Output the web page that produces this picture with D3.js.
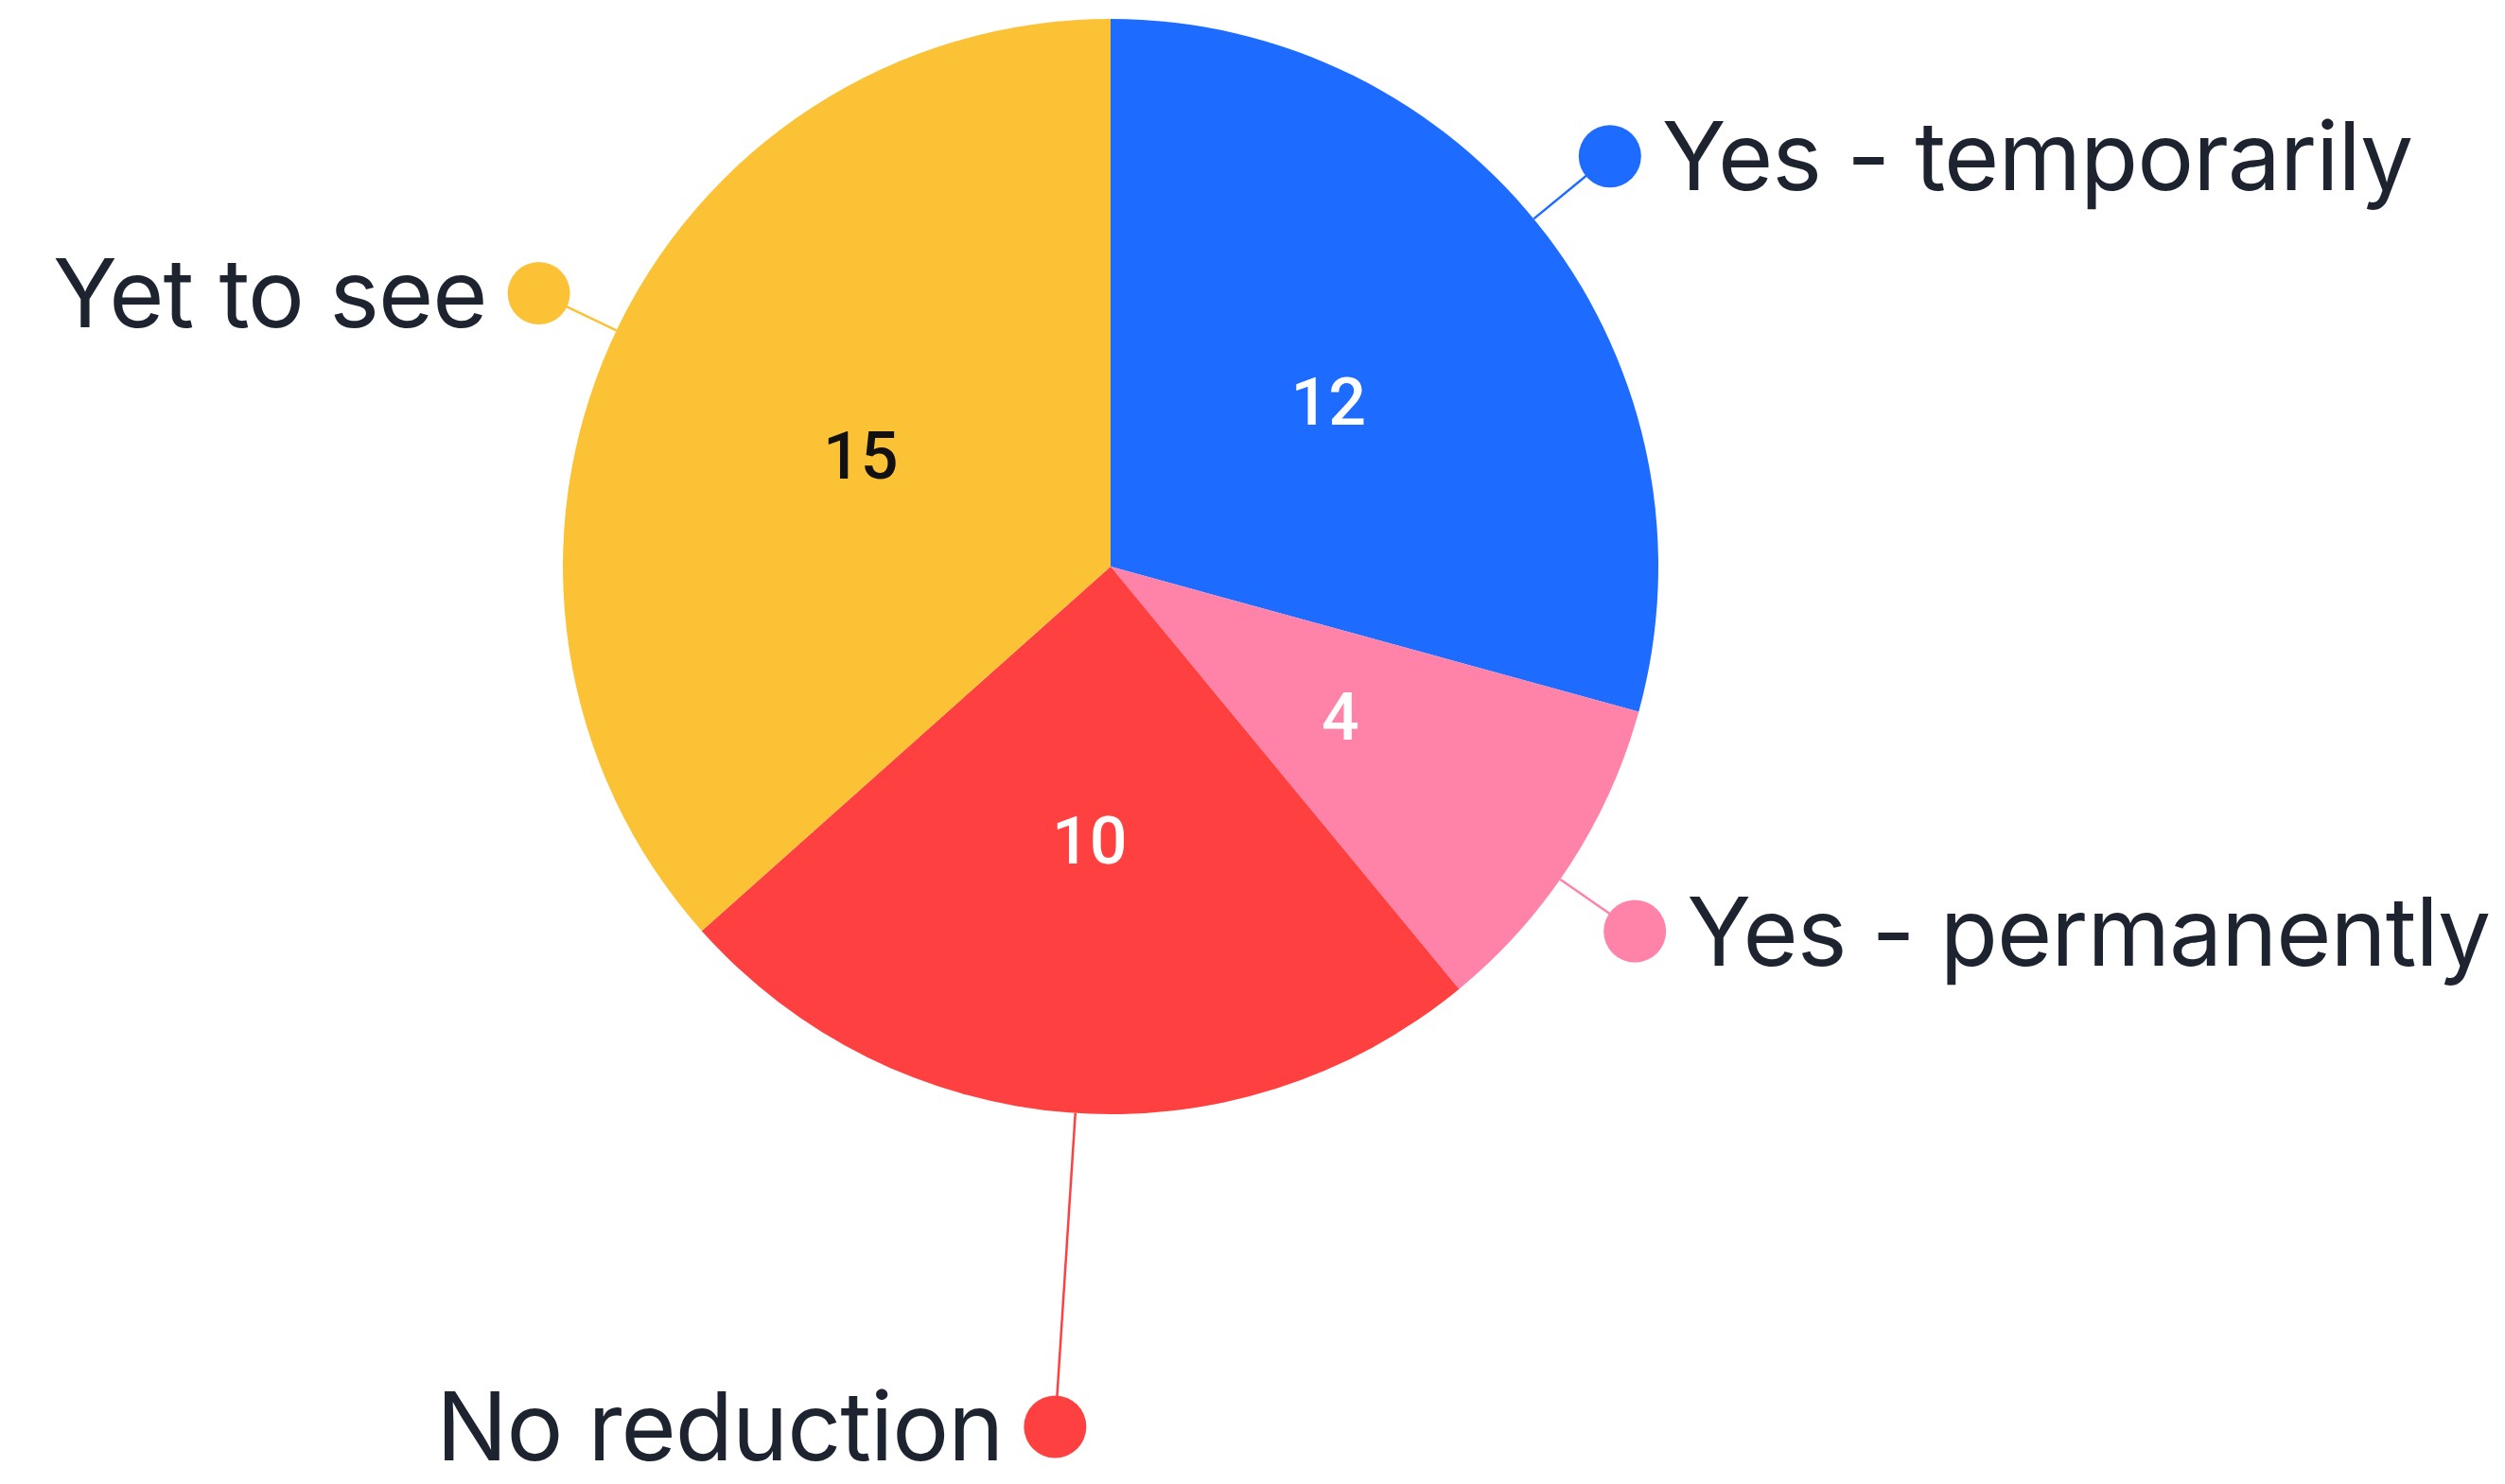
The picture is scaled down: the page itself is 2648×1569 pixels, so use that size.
<!DOCTYPE html>
<html>
<head>
<meta charset="utf-8">
<script src="https://cdn.jsdelivr.net/npm/d3@7"></script>
<style>
  html, body { margin: 0; padding: 0; background: #ffffff; }
  svg { display: block; }
</style>
</head>
<body>
<svg id="chart" width="2648" height="1569"></svg>
<script>
// ---- data ----
const categories = ["Yes - temporarily", "Yes - permanently", "No reduction", "Yet to see"];
const values = [12, 4, 10, 15];
const colors = ["#1E6BFF", "#FF82A9", "#FF4040", "#FCC236"];
const valueLabelColors = ["#ffffff", "#ffffff", "#ffffff", "#111111"];

// ---- layout (not data) ----
const W = 2648, H = 1569;
const cx = 1174, cy = 599, R = 579;
const labelLayout = [
  { r: 1.18, shift: -2.1, side: "right" },
  { r: 1.166, shift: 1.9, side: "right" },
  { r: 1.574, shift: -0.7, side: "left" },
  { r: 1.157, shift: 1.4, side: "left" }
];
const dotR = 33, textGap = 22;

const svg = d3.select("#chart");
const g = svg.append("g").attr("transform", `translate(${cx},${cy})`);

const data = categories.map((c, i) => ({ name: c, value: values[i], i }));
const pie = d3.pie().value(d => d.value).sort(null);
const arcs = pie(data);
const arc = d3.arc().innerRadius(0).outerRadius(R);

g.selectAll("path.slice").data(arcs).join("path")
  .attr("class", "slice")
  .attr("d", arc)
  .attr("fill", d => colors[d.data.i]);

// value labels inside
g.selectAll("text.val").data(arcs).join("text")
  .attr("class", "val")
  .attr("transform", d => {
    const a = (d.startAngle + d.endAngle) / 2;
    return `translate(${Math.sin(a) * R * 0.5},${-Math.cos(a) * R * 0.5})`;
  })
  .attr("text-anchor", "middle")
  .attr("dy", "0.36em")
  .attr("font-family", "Roboto, 'Liberation Sans', Arial, sans-serif")
  .attr("font-weight", 500)
  .attr("font-size", 70)
  .attr("fill", d => valueLabelColors[d.data.i])
  .text(d => d.data.value);

// outer labels with leaders and dots
const lab = g.selectAll("g.lab").data(arcs).join("g").attr("class", "lab");
lab.each(function(d) {
  const L = labelLayout[d.data.i];
  const a = (d.startAngle + d.endAngle) / 2 + L.shift * Math.PI / 180;
  const sx = Math.sin(a) * R, sy = -Math.cos(a) * R;
  const ex = Math.sin(a) * R * L.r, ey = -Math.cos(a) * R * L.r;
  const s = d3.select(this);
  s.append("line")
    .attr("x1", sx).attr("y1", sy).attr("x2", ex).attr("y2", ey)
    .attr("stroke", colors[d.data.i]).attr("stroke-width", 2.5);
  s.append("circle")
    .attr("cx", ex).attr("cy", ey).attr("r", dotR)
    .attr("fill", colors[d.data.i]);
  const right = L.side === "right";
  s.append("text")
    .attr("x", right ? ex + dotR + textGap : ex - dotR - textGap)
    .attr("y", ey)
    .attr("dy", "0.36em")
    .attr("text-anchor", right ? "start" : "end")
    .attr("font-family", "Inter, 'Noto Sans', sans-serif")
    .attr("font-weight", 400)
    .attr("font-size", 100)
    .attr("letter-spacing", -1)
    .attr("fill", "#1D2430")
    .text(d.data.name);
});
</script>
</body>
</html>
